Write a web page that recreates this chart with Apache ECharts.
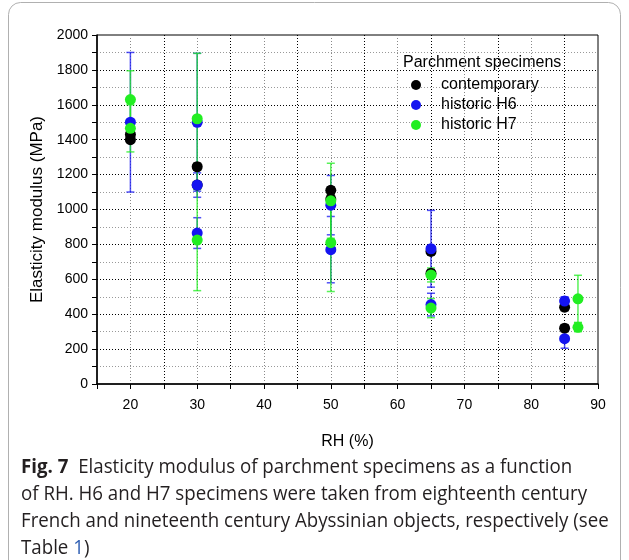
<!DOCTYPE html>
<html><head><meta charset="utf-8">
<script src="https://cdn.jsdelivr.net/npm/echarts@6/dist/echarts.min.js"></script>
<style>html,body{margin:0;padding:0;background:#fff;}#c{width:629px;height:560px;}</style>
</head><body><div id="c"></div>
<script>
// [RH %, modulus MPa, error MPa]
const contemporary = [[20,1430,15],[20,1400,15],[30,1245,20],[30,1140,20],[50,1110,20],[50,1060,20],[65,760,20],[65,635,20],[85,440,20],[85,320,20]];
const historicH6 = [[20,1500,400],[30,1500,395],[30,1140,70],[30,865,88],[50,1025,170],[50,770,190],[65,775,220],[65,455,65],[85,475,25],[85,260,55]];
const historicH7 = [[20,1630,165],[20,1465,135],[30,1520,375],[30,825,290],[50,1050,215],[50,810,280],[65,625,40],[65,435,55],[87,488,135],[87,325,25]];
const seriesNames = ['contemporary','historic H6','historic H7'];
const seriesColors = ['#000000','#1414f0','#22ee22'];
const xTickLabels = [20,30,40,50,60,70,80,90];
const yTickLabels = [0,200,400,600,800,1000,1200,1400,1600,1800,2000];
const legendTitle = 'Parchment specimens';
const captionLines = [
  '{b|Fig. 7}  Elasticity modulus of parchment specimens as a function',
  'of RH. H6 and H7 specimens were taken from eighteenth century',
  'French and nineteenth century Abyssinian objects, respectively (see',
  'Table {l|1})'
];

const chart = echarts.init(document.getElementById('c'), null, {renderer:'canvas'});
const datasets = [contemporary, historicH6, historicH7];
const fontFam = '"Liberation Sans", Arial, sans-serif';

function errRender(color){
  return function(params, api){
    const x = api.value(0), y = api.value(1), e = api.value(2);
    const top = api.coord([x, y + e]);
    const bot = api.coord([x, y - e]);
    const hw = 4;
    const st = {stroke: color, lineWidth: 1.5, opacity: 0.75};
    return {type:'group', children:[
      {type:'line', shape:{x1:top[0], y1:top[1], x2:bot[0], y2:bot[1]}, style: st},
      {type:'line', shape:{x1:top[0]-hw, y1:top[1], x2:top[0]+hw, y2:top[1]}, style: st},
      {type:'line', shape:{x1:bot[0]-hw, y1:bot[1], x2:bot[0]+hw, y2:bot[1]}, style: st}
    ]};
  };
}

const series = [];
datasets.forEach((d,i)=>{
  series.push({type:'custom', name: seriesNames[i] + ' err', data: d, renderItem: errRender(seriesColors[i]), z: 2, silent:true, encode:{x:0,y:1}});
});
datasets.forEach((d,i)=>{
  series.push({type:'scatter', name: seriesNames[i], data: d.map(p=>[p[0],p[1]]), symbol:'circle', symbolSize: 11, itemStyle:{color: seriesColors[i], opacity:1}, z: 5 + i});
});

const captionGraphics = captionLines.map((t, i)=>({
  type:'text', left: 21, top: 457 + i*27, scaleX: 0.935,
  style:{text: t, font: '20px "Open Sans"', fill:'#231f20',
    rich:{b:{fontWeight:'bold', fontSize:20, fontFamily:'Open Sans', fill:'#231f20'}, l:{fill:'#2f5fb3', fontSize:20, fontFamily:'Open Sans'}}}
}));

chart.setOption({
  animation:false,
  backgroundColor:'#fff',
  grid:{left:97, right:31, top:35, height:349, show:true, borderColor:'#000', borderWidth:1, containLabel:false},
  xAxis:{type:'value', min:15, max:90, interval:5,
    name:'RH (%)', nameLocation:'middle', nameGap:50, nameTextStyle:{fontFamily:fontFam, fontSize:16, color:'#000'},
    axisLine:{show:true, onZero:false, lineStyle:{color:'#000', width:1.5}},
    axisTick:{show:true, inside:false, length:5, lineStyle:{color:'#000'}},
    axisLabel:{fontFamily:fontFam, fontSize:14, color:'#000', margin:14,
      formatter: v => xTickLabels.indexOf(v) >= 0 ? String(v) : ''},
    splitLine:{show:true, showMinLine:false, showMaxLine:false, lineStyle:{color:['#888','#000'], type:[1,2], width:1}}
  },
  yAxis:{type:'value', min:0, max:2000, interval:100,
    name:'Elasticity modulus (MPa)', nameLocation:'middle', nameGap:42, nameTextStyle:{fontFamily:fontFam, fontSize:17, color:'#000'},
    axisLine:{show:true, onZero:false, lineStyle:{color:'#000', width:1.5}},
    axisTick:{show:true, inside:false, length:5, lineStyle:{color:'#000'}},
    axisLabel:{fontFamily:fontFam, fontSize:14, color:'#000', margin:9,
      formatter: v => yTickLabels.indexOf(v) >= 0 ? String(v) : ''},
    splitLine:{show:true, showMinLine:false, showMaxLine:false, lineStyle:{color:['#999','#000'], type:[1,2], width:1}}
  },
  legend:{show:true, orient:'vertical', left:406, top:72, itemWidth:28, itemHeight:10, itemGap:4,
    icon:'circle', data: seriesNames, textStyle:{fontFamily:fontFam, fontSize:16, color:'#000', padding:[0,0,0,6]}, selectedMode:false},
  graphic:[
    {type:'rect', shape:{x:8.5, y:2.5, width:612, height:600, r:12}, style:{fill:'none', stroke:'#b0b0b0', lineWidth:1}, z:-1},
    {type:'text', left:403, top:55, style:{text: legendTitle, font:'16px "Liberation Sans"', fill:'#000'}},
    ...captionGraphics
  ],
  series: series
});
</script></body></html>
